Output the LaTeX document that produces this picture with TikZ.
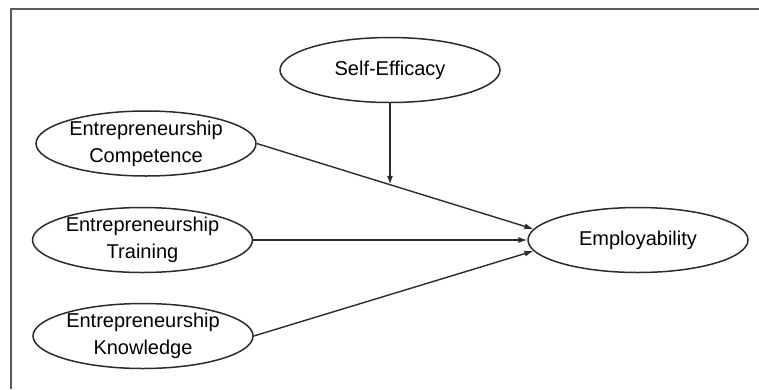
\documentclass[tikz,border=0pt]{standalone}
\usepackage{fontspec}
\setmainfont{Liberation Sans}
\usepackage{tikz}
\usetikzlibrary{arrows.meta,positioning,shapes,calc}
\usepackage{xcolor}
\definecolor{linegray}{HTML}{2B2B2B}
\definecolor{framegray}{HTML}{5A5A5A}

\begin{document}
\begin{tikzpicture}[x=1pt, y=-1pt,
  latent/.style={draw=linegray, ellipse, line width=1.5pt, minimum width=220pt, minimum height=65pt, inner sep=0pt, align=center, font=\fontsize{20}{27}\selectfont},
  path/.style={-{Latex[length=9pt,width=6pt]}, line width=1.4pt, linegray}]
\useasboundingbox (0,0) rectangle (759,389);
\draw[framegray, line width=1.5pt] (759,9) -- (11,9) -- (11,389);
\node[latent] (se) at (390,70) {Self-Efficacy};
\node[latent] (comp) at (146,143.5) {Entrepreneurship\\Competence};
\node[latent] (train) at (142.5,240) {Entrepreneurship\\Training};
\node[latent] (know) at (143,336) {Entrepreneurship\\Knowledge};
\node[latent] (emp) at (638,240) {Employability};
\draw[path] (comp.east) -- coordinate[pos=0.484] (mod) (emp.174);
\draw[path] (train.east) -- (emp.west);
\draw[path] (know.east) -- (emp.186);
\draw[path, line width=2.2pt] (se.south) -- (se.south |- mod);
\end{tikzpicture}
\end{document}
